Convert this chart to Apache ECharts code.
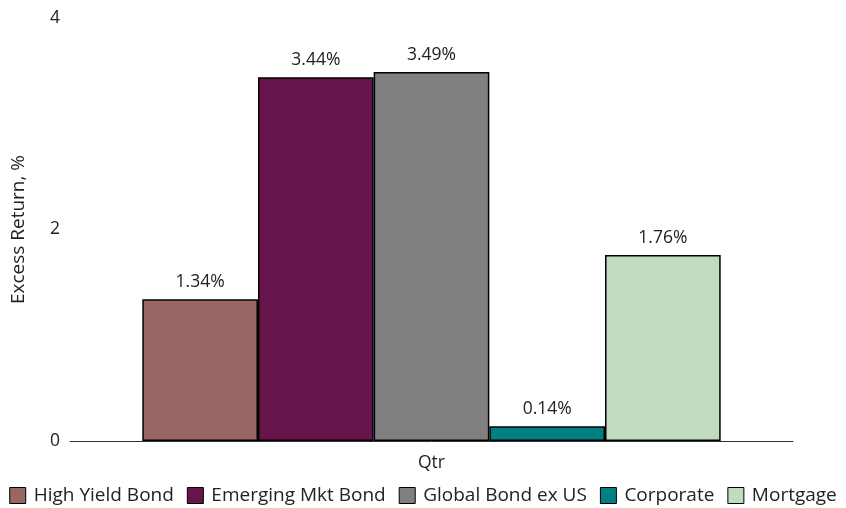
<!DOCTYPE html>
<html>
<head>
<meta charset="utf-8">
<script src="https://cdn.jsdelivr.net/npm/echarts@6/dist/echarts.min.js"></script>
<style>
  html, body { margin: 0; padding: 0; background: #fff; }
  #chart { width: 846px; height: 508px; }
</style>
</head>
<body>
<div id="chart"></div>
<script>
// Quarterly excess returns by bond sector
const categories = ['Qtr'];
const seriesNames = ['High Yield Bond', 'Emerging Mkt Bond', 'Global Bond ex US', 'Corporate', 'Mortgage'];
const seriesValues = [[1.34], [3.44], [3.49], [0.14], [1.76]];
const seriesColors = ['#996666', '#66144a', '#808080', '#008080', '#c0dcc0'];
const yTicks = [0, 2, 4];

const FONT = 'Open Sans';

const chart = echarts.init(document.getElementById('chart'), null, { renderer: 'canvas' });

const series = seriesNames.map((name, i) => ({
  name: name,
  type: 'bar',
  data: seriesValues[i],
  barGap: '0%',
  barCategoryGap: '20%',
  itemStyle: { color: seriesColors[i], borderColor: '#000', borderWidth: 1.5 },
  label: {
    show: true,
    position: 'top',
    distance: 8,
    formatter: p => p.value.toFixed(2) + '%',
    color: '#222',
    fontFamily: FONT,
    fontSize: 17.5
  }
}));

chart.setOption({
  animation: false,
  grid: { left: 70, right: 53, top: 18, bottom: 67 },
  legend: {
    top: 486,
    left: 'center',
    padding: 0,
    itemWidth: 16,
    itemHeight: 16,
    itemGap: 13,
    icon: 'rect',
    itemStyle: { borderColor: '#000', borderWidth: 1 },
    textStyle: { color: '#222', fontFamily: FONT, fontSize: 19, padding: [0, 0, 0, 3] },
    data: seriesNames
  },
  xAxis: {
    type: 'category',
    data: categories,
    axisLine: { lineStyle: { color: '#333', width: 1 } },
    axisTick: { show: false },
    axisLabel: { color: '#222', fontFamily: FONT, fontSize: 17.5, margin: 13 }
  },
  yAxis: {
    type: 'value',
    min: yTicks[0],
    max: yTicks[yTicks.length - 1],
    interval: 2,
    name: 'Excess Return, %',
    nameLocation: 'middle',
    nameGap: 42,
    nameTextStyle: { color: '#222', fontFamily: FONT, fontSize: 19 },
    axisLine: { show: false },
    axisTick: { show: false },
    splitLine: { show: false },
    axisLabel: { color: '#222', fontFamily: FONT, fontSize: 17.5, margin: 10 }
  },
  series: series
});
</script>
</body>
</html>
